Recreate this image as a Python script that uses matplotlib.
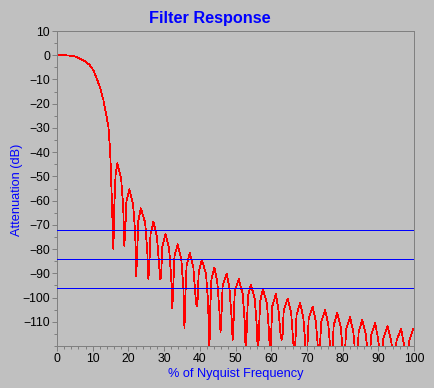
import matplotlib
matplotlib.use("Agg")
import matplotlib.pyplot as plt
from matplotlib.ticker import MultipleLocator

# ---- data ----
freq_main = [0, 2, 4.6, 6.0, 7.4, 8.3, 9.2, 10.2, 11.1, 12.0, 13.0, 13.9, 14.4,
             14.65, 14.85, 15.1, 15.4, 15.8]
db_main = [0, 0, -0.3, -1.1, -2.1, -3.0, -4.1, -6.2, -9.6, -13.0, -18.5, -25.4,
           -29.5, -35, -37.8, -48, -62, -80]

freq_side = [
    16.05, 16.4, 16.9, 17.95, 18.55, 18.85,
    19.1, 19.45, 20.25, 21.3, 21.9, 22.2,
    22.45, 22.8, 23.5, 24.7, 25.3, 25.6,
    25.85, 26.2, 27.0, 28.0, 28.6, 28.9,
    29.15, 29.5, 30.4, 31.4, 32.0, 32.3,
    32.55, 32.9, 33.8, 34.8, 35.4, 35.7,
    35.95, 36.3, 37.2, 38.2, 38.8, 39.1,
    39.35, 39.7, 40.6, 41.75, 42.35, 42.65,
    42.9, 43.25, 44.1, 44.9, 45.5, 45.8,
    46.05, 46.4, 47.5, 48.3, 48.9, 49.2,
    49.45, 49.8, 50.9, 52.0, 52.6, 52.9,
    53.15, 53.5, 54.3, 55.4, 56.0, 56.3,
    56.55, 56.9, 57.7, 58.8, 59.4, 59.7,
    59.95, 60.3, 61.3, 62.0, 62.6, 62.9,
    63.15, 63.5, 64.6, 65.6, 66.2, 66.5,
    66.75, 67.1, 68.1, 69.0, 69.6, 69.9,
    70.15, 70.5, 71.6, 72.5, 73.1, 73.4,
    73.65, 74.0, 75.1, 76.0, 76.6, 76.9,
    77.15, 77.5, 78.5, 79.5, 80.1, 80.4,
    80.65, 81.0, 82.1, 83.0, 83.6, 83.9,
    84.15, 84.5, 85.5, 86.5, 87.1, 87.4,
    87.65, 88.0, 89.1, 89.9, 90.5, 90.8,
    91.05, 91.4, 92.6, 93.6, 94.2, 94.5,
    94.75, 95.1, 96.4, 97.1, 97.7, 98.0,
    98.25, 98.6, 99.8, 100.0,
]
db_side = [
    -62.6, -49.6, -44.6, -50.6, -62.6, -78.6,
    -73.3, -60.3, -55.3, -61.3, -73.3, -91.3,
    -81.2, -68.2, -63.2, -69.2, -81.2, -92.4,
    -86.8, -73.8, -68.8, -74.8, -86.8, -92.4,
    -91.9, -78.9, -73.9, -79.9, -91.9, -104.4,
    -96.0, -83.0, -78.0, -84.0, -96.0, -112.6,
    -99.7, -86.7, -81.7, -87.7, -99.7, -103.7,
    -102.4, -89.4, -84.4, -90.4, -102.4, -125,
    -105.6, -92.6, -87.6, -93.6, -105.6, -114.4,
    -108.1, -95.1, -90.1, -96.1, -108.1, -117.4,
    -110.4, -97.4, -92.4, -98.4, -110.4, -125,
    -112.6, -99.6, -94.6, -100.6, -112.6, -125,
    -114.5, -101.5, -96.5, -102.5, -114.5, -125,
    -116.6, -103.6, -98.6, -104.6, -115.0, -117.4,
    -117.0, -105.4, -100.4, -106.4, -118.4, -125,
    -119.0, -107.2, -102.2, -108.2, -120.2, -125,
    -120.0, -108.7, -103.7, -109.7, -121.0, -125,
    -121.0, -110.2, -105.2, -111.2, -122.0, -125,
    -122.0, -111.4, -106.4, -112.4, -123.0, -125,
    -123.0, -113.1, -108.1, -114.1, -124.0, -125,
    -124.0, -114.3, -109.3, -115.3, -124.0, -125,
    -124.0, -115.6, -110.6, -116.6, -124.0, -125,
    -124.0, -116.9, -111.9, -117.9, -124.0, -125,
    -124.0, -117.8, -112.8, -118.8, -124.0, -125,
    -124.0, -118.0, -113.0, -113.0,
]

ref_levels = [-72, -84, -96]
ref_colors = ["#0000FF", "#0000FF", "#0000FF"]

title = "Filter Response"
xlabel = "% of Nyquist Frequency"
ylabel = "Attenuation (dB)"
xticks = list(range(0, 101, 10))
yticks = list(range(10, -111, -10))

# ---- figure ----
BG = "#C0C0C0"
GRID = "#808080"
W, H = 434, 388
fig = plt.figure(figsize=(W / 100, H / 100), dpi=100, facecolor=BG)
ax = fig.add_axes([57 / W, 1 - 346 / H, (414 - 57) / W, (346 - 31) / H])
ax.set_facecolor(BG)

ax.plot(freq_main + freq_side, db_main + db_side, color="#FF0000", lw=0.55,
        antialiased=False, zorder=2, clip_on=True)
for lev, c in zip(ref_levels, ref_colors):
    ax.axhline(lev, color=c, lw=0.72, antialiased=False, zorder=3)

ax.set_xlim(0, 100)
ax.set_ylim(-120, 10)
ax.set_xticks(xticks)
ax.set_yticks(yticks)
ax.xaxis.set_minor_locator(MultipleLocator(2))
ax.yaxis.set_minor_locator(MultipleLocator(5))

fam = ["Liberation Sans", "DejaVu Sans"]
ax.tick_params(which="major", length=3.6, width=0.72, color=GRID, direction="out",
               labelsize=8.8, labelcolor="black", pad=1.5)
ax.tick_params(which="minor", length=1.9, width=0.72, color=GRID, direction="out")
for lab in ax.get_xticklabels() + ax.get_yticklabels():
    lab.set_family(fam)

for s in ax.spines.values():
    s.set_color(GRID)
    s.set_linewidth(0.72)

fig.text(210 / W, 1 - 22.5 / H, title, ha="center", va="baseline",
         color="#0000FF", fontsize=11.7, fontweight="bold", family=fam)
fig.text(235.5 / W, 1 - 377.5 / H, xlabel, ha="center", va="baseline",
         color="#0000FF", fontsize=9.2, family=fam)
fig.text(17 / W, 1 - 190 / H, ylabel, ha="center", va="center", rotation=90,
         color="#0000FF", fontsize=9.2, family=fam)

fig.savefig("out.png", dpi=100, facecolor=BG)
